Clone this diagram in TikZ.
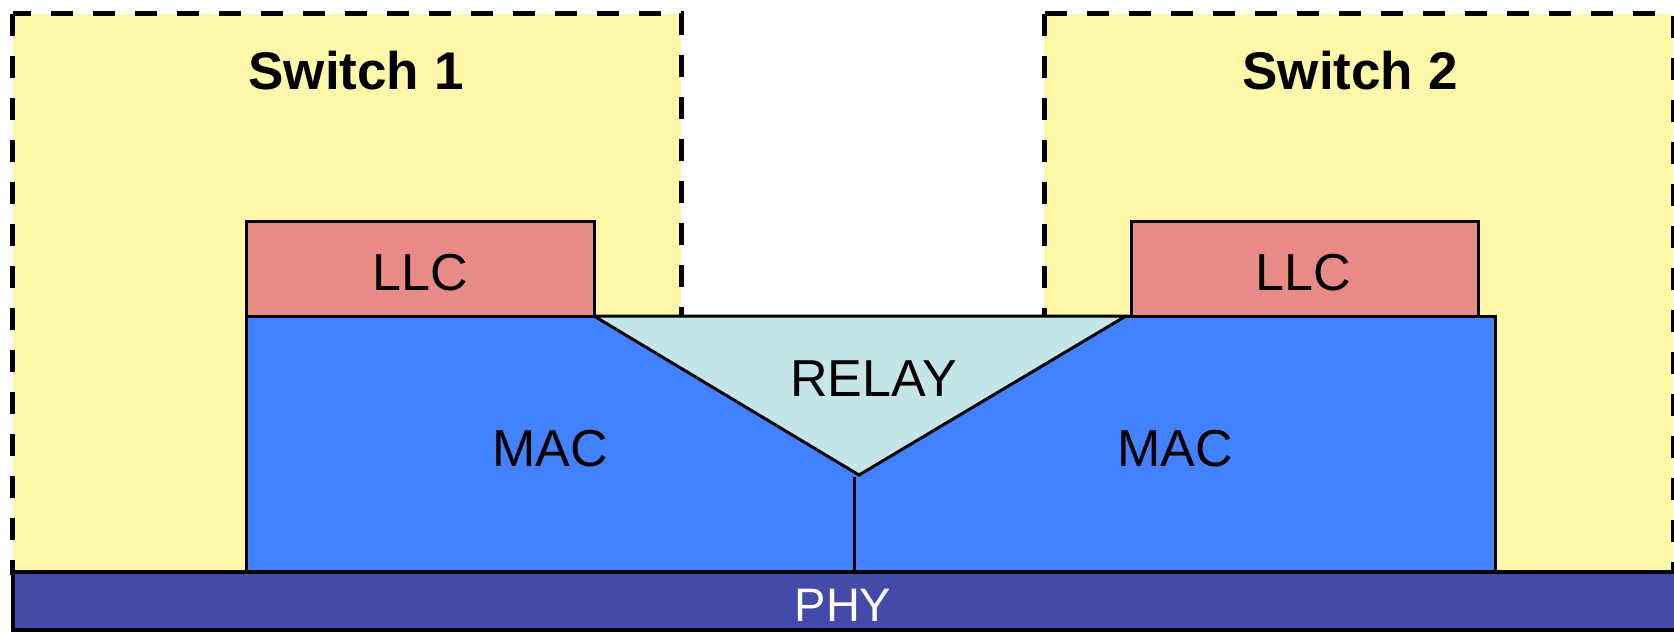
\documentclass[tikz,border=0pt]{standalone}
\usepackage{fontspec}
\setmainfont{Liberation Sans}
\definecolor{swyellow}{HTML}{FFF8A8}
\definecolor{llcred}{HTML}{E88A86}
\definecolor{macblue}{HTML}{4281FF}
\definecolor{relaycyan}{HTML}{C4E6E8}
\definecolor{phyblue}{HTML}{434AA8}
\tikzset{
  switchbox/.style={fill=swyellow, draw=black, line width=5pt, dash pattern=on 22pt off 20pt},
  layerbox/.style={draw=black, line width=3pt, line join=miter},
  lbl/.style={anchor=base, inner sep=0pt, font=\fontsize{52}{52}\selectfont},
  blbl/.style={lbl, font=\fontsize{53}{53}\selectfont\bfseries},
}
\begin{document}
\begin{tikzpicture}[x=1pt, y=-1pt]
\useasboundingbox (0,0) rectangle (1674,632);
% switch regions
\path[switchbox] (12.5,13.5) rectangle (681,572);
\path[switchbox] (1044,13.5) rectangle (1673,572);
% MAC layer
\path[layerbox, fill=macblue] (246.6,316) rectangle (1495,572);
% relay triangle
\coordinate (apex) at (859,475);
\path[layerbox, fill=relaycyan] (594,316) -- (1126,316) -- (apex) -- cycle;
\coordinate (divtop) at (854,477);
\coordinate (divbot) at (854,572);
\draw[line width=3pt] (divtop) -- (divbot);
% LLC layers
\path[layerbox, fill=llcred] (246.6,221) rectangle (594,316);
\path[layerbox, fill=llcred] (1131,221) rectangle (1478.5,316);
% PHY
\path[draw=black, line width=4pt, fill=phyblue] (12.5,572) rectangle (1680,630);
% labels
\node[blbl] (sw1) at (356,89) {Switch 1};
\node[blbl] (sw2) at (1350,89) {Switch 2};
\node[lbl] (llc1) at (420,290) {LLC};
\node[lbl] (llc2) at (1303.5,290) {LLC};
\node[lbl] (relay) at (873.5,396) {RELAY};
\node[lbl] (mac1) at (550,466) {MAC};
\node[lbl] (mac2) at (1175,466) {MAC};
\node[lbl, text=white, font=\fontsize{47}{47}\selectfont] (phy) at (843,621.5) {PHY};
\end{tikzpicture}
\end{document}
